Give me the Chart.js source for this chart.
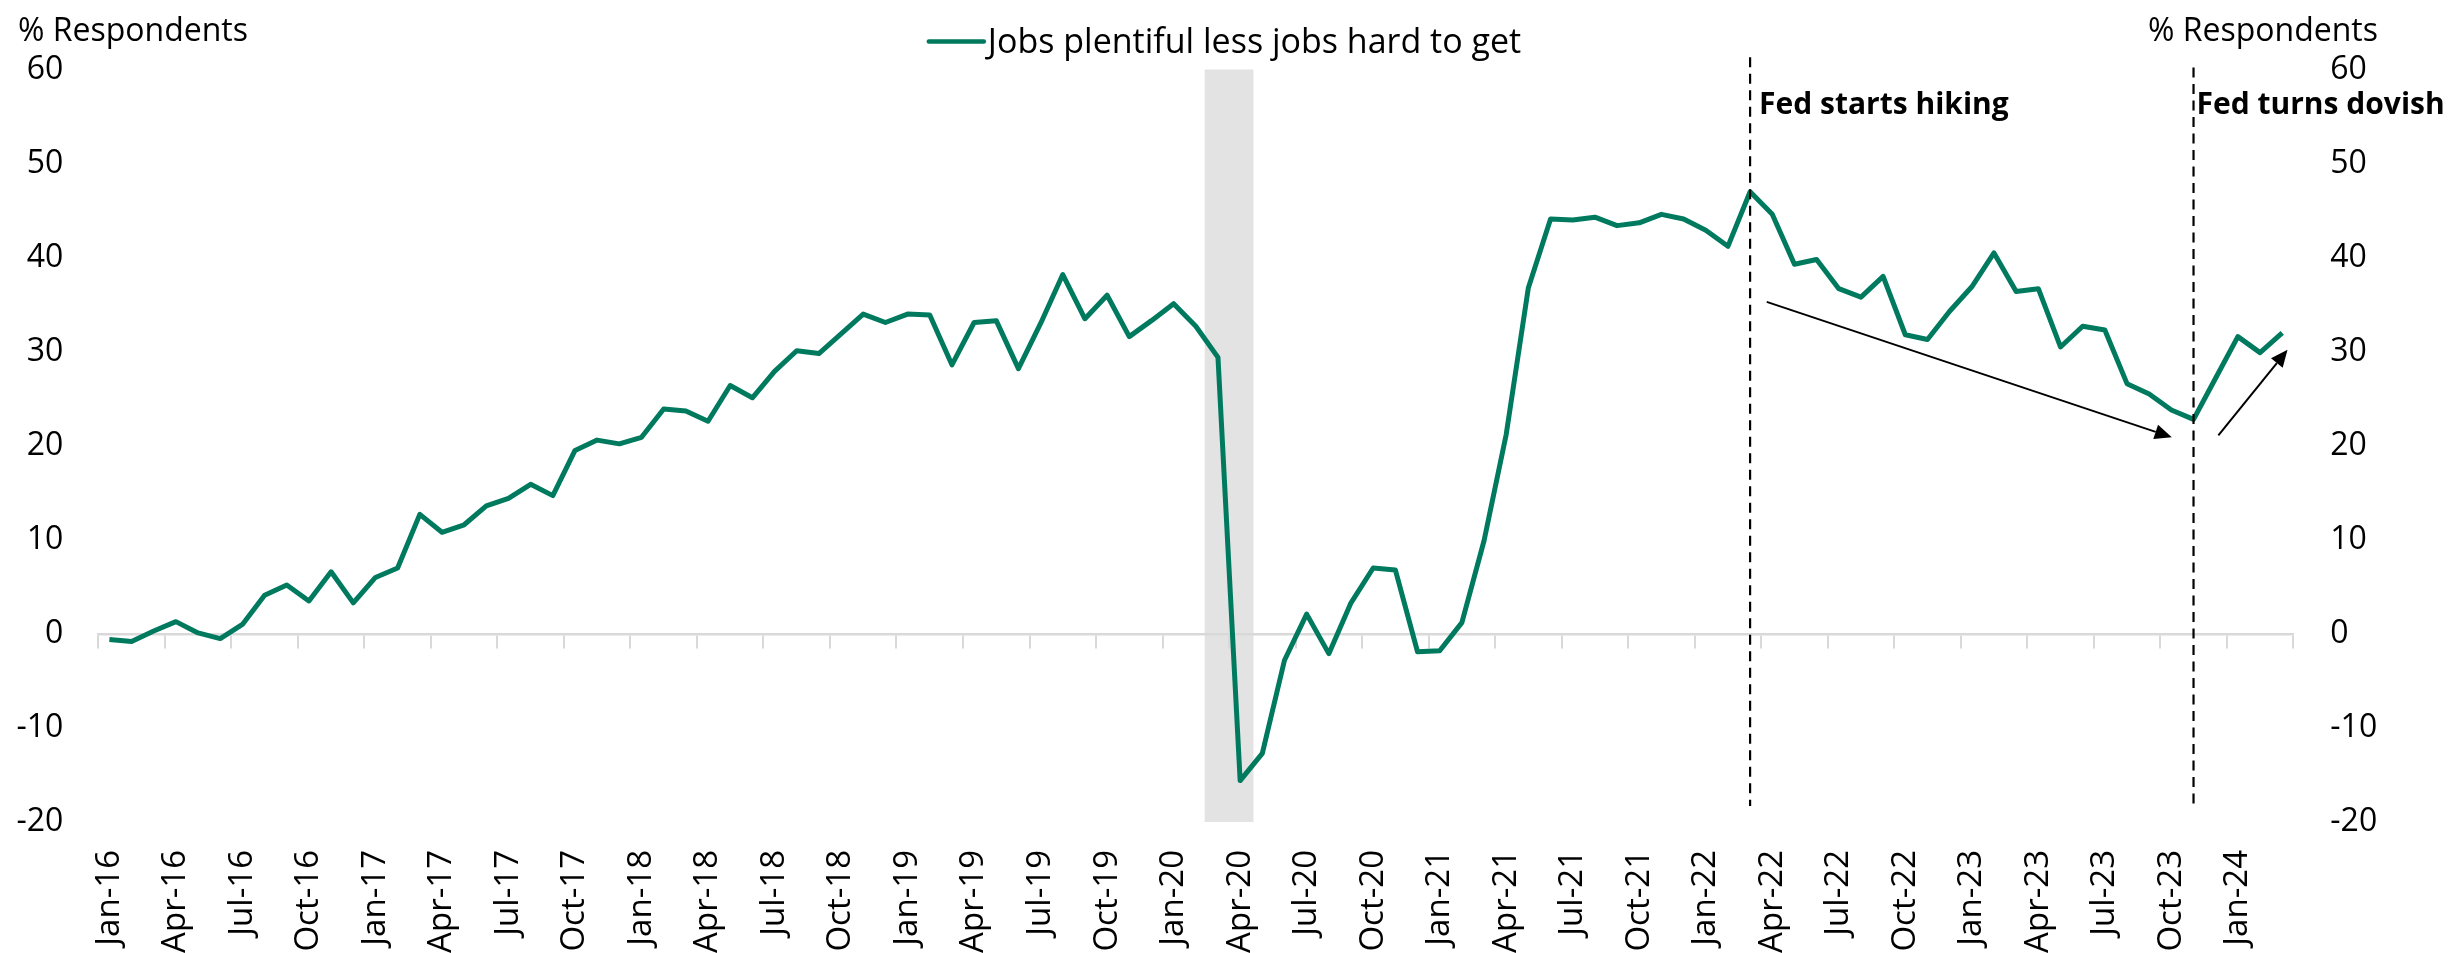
<!DOCTYPE html>
<html>
<head>
<meta charset="utf-8">
<script src="https://cdn.jsdelivr.net/npm/chart.js@4.4.1/dist/chart.umd.min.js"></script>
<style>
html,body{margin:0;padding:0;background:#fff;}
#wrap{width:2453px;height:953px;position:relative;}
</style>
</head>
<body>
<div id="wrap"><canvas id="c"></canvas></div>
<script>
// ---- categories (monthly) ----
const months = [
 'Jan-16','Feb-16','Mar-16','Apr-16','May-16','Jun-16','Jul-16','Aug-16','Sep-16','Oct-16','Nov-16','Dec-16',
 'Jan-17','Feb-17','Mar-17','Apr-17','May-17','Jun-17','Jul-17','Aug-17','Sep-17','Oct-17','Nov-17','Dec-17',
 'Jan-18','Feb-18','Mar-18','Apr-18','May-18','Jun-18','Jul-18','Aug-18','Sep-18','Oct-18','Nov-18','Dec-18',
 'Jan-19','Feb-19','Mar-19','Apr-19','May-19','Jun-19','Jul-19','Aug-19','Sep-19','Oct-19','Nov-19','Dec-19',
 'Jan-20','Feb-20','Mar-20','Apr-20','May-20','Jun-20','Jul-20','Aug-20','Sep-20','Oct-20','Nov-20','Dec-20',
 'Jan-21','Feb-21','Mar-21','Apr-21','May-21','Jun-21','Jul-21','Aug-21','Sep-21','Oct-21','Nov-21','Dec-21',
 'Jan-22','Feb-22','Mar-22','Apr-22','May-22','Jun-22','Jul-22','Aug-22','Sep-22','Oct-22','Nov-22','Dec-22',
 'Jan-23','Feb-23','Mar-23','Apr-23','May-23','Jun-23','Jul-23','Aug-23','Sep-23','Oct-23','Nov-23','Dec-23',
 'Jan-24','Feb-24','Mar-24'
];

// ---- series: Jobs plentiful less jobs hard to get (% respondents) ----
const labourDifferential = [
 -0.6, -0.8, 0.3, 1.3, 0.1, -0.5, 1.0, 4.1, 5.2, 3.5, 6.6, 3.3,
 6.0, 7.0, 12.7, 10.8, 11.6, 13.6, 14.4, 15.9, 14.7, 19.5, 20.6, 20.2,
 20.9, 23.9, 23.7, 22.6, 26.4, 25.1, 27.9, 30.1, 29.8, 31.9, 34.0, 33.1,
 34.0, 33.9, 28.6, 33.1, 33.3, 28.2, 33.0, 38.2, 33.5, 36.0, 31.6, 33.3,
 35.1, 32.7, 29.4, -15.6, -12.7, -2.8, 2.1, -2.1, 3.3, 7.0, 6.8, -1.9,
 -1.8, 1.2, 9.9, 21.2, 36.8, 44.1, 44.0, 44.3, 43.4, 43.7, 44.6, 44.1,
 42.9, 41.2, 47.0, 44.6, 39.3, 39.8, 36.7, 35.8, 38.0, 31.8, 31.3, 34.3,
 36.9, 40.5, 36.4, 36.7, 30.5, 32.7, 32.3, 26.6, 25.5, 23.8, 22.8, 27.2,
 31.6, 29.9, 32.0
];

// ---- axis tick values ----
const yTicks = [-20, -10, 0, 10, 20, 30, 40, 50, 60];
const quarterMonths = ['Jan', 'Apr', 'Jul', 'Oct'];

// ---- annotations (in data coordinates) ----
const recession = { from: 'Mar-20', to: 'Apr-20' };
const fedEvents = [
  { at: 'Mar-22', text: 'Fed starts hiking', top: 61.3, bottom: -18.3, textY: 55.3, dx: 9 },
  { at: 'Nov-23', text: 'Fed turns dovish',  top: 60.2, bottom: -18.3, textY: 55.3, dx: 3 }
];
const trendArrows = [
  { x0: 74.75, y0: 35.3, x1: 93.02, y1: 20.9 },
  { x0: 95.12, y0: 21.1, x1: 98.24, y1: 30.2 }
];

const FONT = "'Open Sans', 'Noto Sans', sans-serif";
const GREEN = '#007a5e';
const seriesName = 'Jobs plentiful less jobs hard to get';
const axisTitle = '% Respondents';

function drawArrow(ctx, x0, y0, x1, y1) {
  const a = Math.atan2(y1 - y0, x1 - x0);
  const L = 17, W = 7.5;
  const bx = x1 - L * Math.cos(a), by = y1 - L * Math.sin(a);
  ctx.beginPath(); ctx.moveTo(x0, y0); ctx.lineTo(bx, by); ctx.stroke();
  ctx.beginPath();
  ctx.moveTo(x1, y1);
  ctx.lineTo(bx + W * Math.sin(a), by - W * Math.cos(a));
  ctx.lineTo(bx - W * Math.sin(a), by + W * Math.cos(a));
  ctx.closePath(); ctx.fill();
}

const decorPlugin = {
  id: 'decor',
  beforeDraw(chart) {
    const ctx = chart.ctx, xs = chart.scales.x, ys = chart.scales.y;
    const i0 = months.indexOf(recession.from), i1 = months.indexOf(recession.to);
    const xa = xs.getPixelForValue(i0 - 0.6), xb = xs.getPixelForValue(i1 + 0.6);
    const yt = ys.getPixelForValue(ys.max), yb = ys.getPixelForValue(ys.min);
    ctx.save();
    ctx.fillStyle = '#e3e3e3';
    ctx.fillRect(xa, yt, xb - xa, yb - yt);
    ctx.restore();
  },
  afterDatasetsDraw(chart) {
    const ctx = chart.ctx, xs = chart.scales.x, ys = chart.scales.y;
    ctx.save();
    fedEvents.forEach(ev => {
      const x = xs.getPixelForValue(months.indexOf(ev.at));
      ctx.strokeStyle = '#000';
      ctx.lineWidth = 2.2;
      ctx.setLineDash([10, 6.5]);
      ctx.beginPath();
      ctx.moveTo(x, ys.getPixelForValue(ev.top));
      ctx.lineTo(x, ys.getPixelForValue(ev.bottom));
      ctx.stroke();
      ctx.setLineDash([]);
      ctx.fillStyle = '#000';
      ctx.font = 'bold 30px ' + FONT;
      ctx.textAlign = 'left';
      ctx.textBaseline = 'alphabetic';
      ctx.fillText(ev.text, x + ev.dx, ys.getPixelForValue(ev.textY));
    });
    ctx.strokeStyle = '#000';
    ctx.fillStyle = '#000';
    ctx.lineWidth = 2;
    trendArrows.forEach(a => {
      drawArrow(ctx, xs.getPixelForValue(a.x0), ys.getPixelForValue(a.y0),
                     xs.getPixelForValue(a.x1), ys.getPixelForValue(a.y1));
    });
    ctx.restore();
  },
  afterDraw(chart) {
    const ctx = chart.ctx;
    ctx.save();
    ctx.fillStyle = '#000';
    ctx.textBaseline = 'alphabetic';
    ctx.font = '32px ' + FONT;
    ctx.textAlign = 'left';
    ctx.fillText(axisTitle, 18, 41);
    ctx.textAlign = 'right';
    ctx.fillText(axisTitle, 2378, 41);
    ctx.font = '34px ' + FONT;
    const tw = ctx.measureText(seriesName).width;
    const lineLen = 55, gap = 4;
    const total = lineLen + gap + tw;
    const cx = 1225;
    const lx = cx - total / 2;
    ctx.strokeStyle = GREEN;
    ctx.lineWidth = 4.5;
    ctx.lineCap = 'round';
    ctx.beginPath(); ctx.moveTo(lx, 41.5); ctx.lineTo(lx + lineLen, 41.5); ctx.stroke();
    ctx.textAlign = 'left';
    ctx.fillText(seriesName, lx + lineLen + gap, 53);
    ctx.restore();
  }
};

new Chart(document.getElementById('c'), {
  type: 'line',
  data: {
    labels: months,
    datasets: [{
      label: seriesName,
      data: labourDifferential,
      borderColor: GREEN,
      backgroundColor: GREEN,
      borderWidth: 5,
      pointRadius: 0,
      pointHoverRadius: 0,
      tension: 0,
      borderJoinStyle: 'round',
      fill: false
    }]
  },
  options: {
    responsive: true,
    maintainAspectRatio: false,
    animation: false,
    events: [],
    layout: { padding: { top: 69.5, left: 0, right: 0, bottom: 0 } },
    plugins: { legend: { display: false }, tooltip: { enabled: false }, title: { display: false } },
    scales: {
      x: {
        type: 'category',
        position: 'bottom',
        offset: true,
        grid: { display: false, drawTicks: false },
        border: { display: false },
        ticks: {
          autoSkip: false,
          minRotation: 90,
          maxRotation: 90,
          padding: 28,
          color: '#000',
          font: { family: FONT, size: 33 },
          callback: function (v) {
            const lab = this.getLabelForValue(v);
            return quarterMonths.includes(lab.slice(0, 3)) ? lab : '';
          }
        },
        afterFit: s => { s.height = 131; }
      },
      xMarks: {
        type: 'category',
        axis: 'x',
        position: { y: 0 },
        offset: true,
        grid: {
          display: true,
          offset: true,
          drawOnChartArea: false,
          drawTicks: true,
          tickLength: 13,
          color: '#d9d9d9',
          lineWidth: c => (c.index === undefined || c.index % 3 === 0) ? 2 : 0
        },
        border: { display: true, color: '#d9d9d9', width: 2.5 },
        ticks: { display: false }
      },
      y: {
        position: 'left',
        min: -20, max: 60,
        afterBuildTicks: s => { s.ticks = yTicks.map(v => ({ value: v })); },
        grid: { display: false, drawTicks: false },
        border: { display: false },
        ticks: { padding: 35, color: '#000', font: { family: FONT, size: 32 } },
        afterFit: s => { s.width = 98.3; }
      },
      y2: {
        position: 'right',
        min: -20, max: 60,
        afterBuildTicks: s => { s.ticks = yTicks.map(v => ({ value: v })); },
        grid: { display: false, drawTicks: false },
        border: { display: false },
        ticks: { padding: 37, color: '#000', font: { family: FONT, size: 32 } },
        afterFit: s => { s.width = 159.7; }
      }
    }
  },
  plugins: [decorPlugin]
});
</script>
</body>
</html>
